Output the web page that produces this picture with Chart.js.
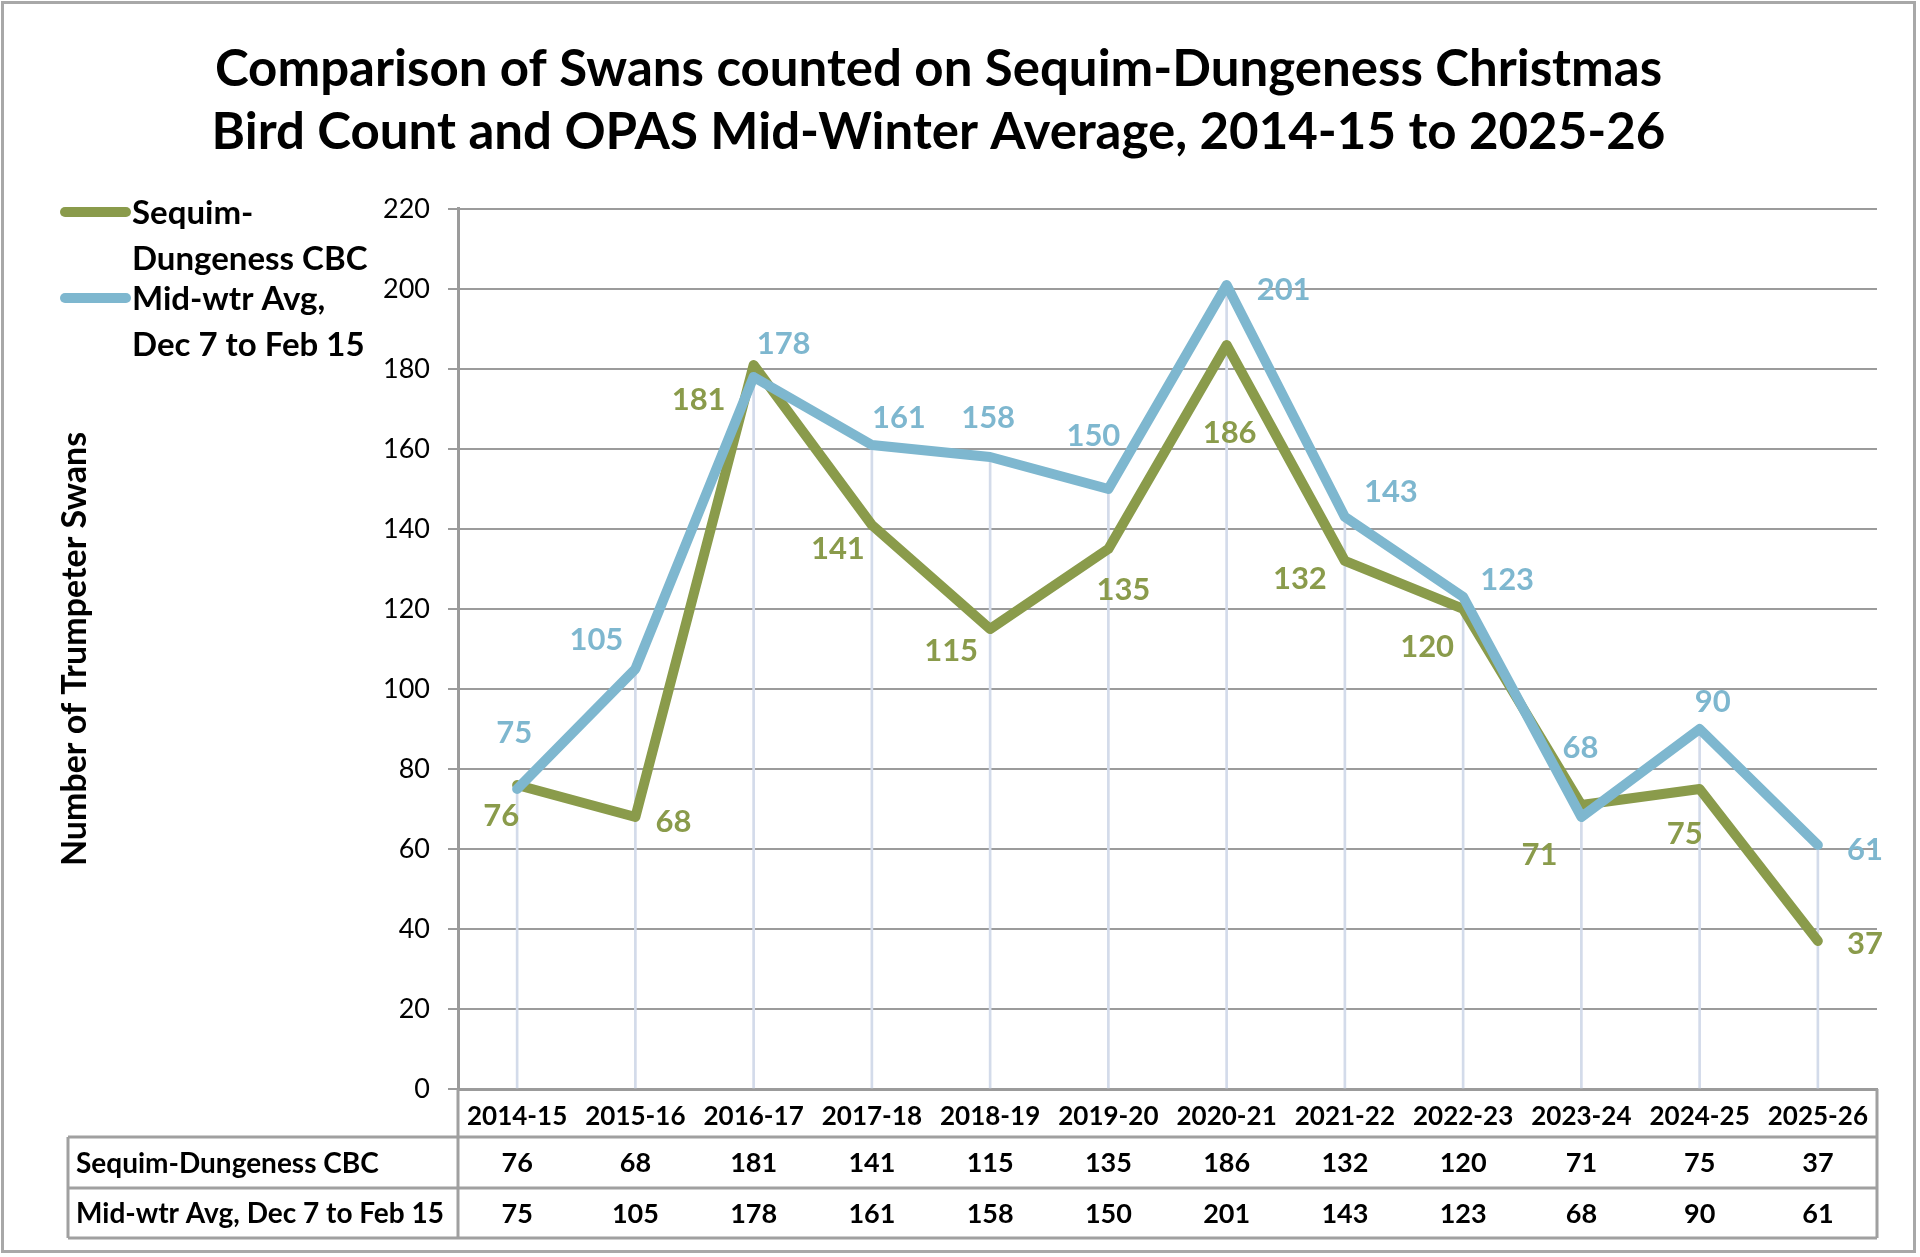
<!DOCTYPE html>
<html>
<head>
<meta charset="utf-8">
<script src="https://cdn.jsdelivr.net/npm/chart.js@4.4.1/dist/chart.umd.min.js"></script>
<style>
  html, body { margin: 0; padding: 0; background: #fff; }
  canvas { display: block; }
</style>
</head>
<body>
<canvas id="c" width="1920" height="1257"></canvas>
<script>
// ---- data ----
const categories = ['2014-15','2015-16','2016-17','2017-18','2018-19','2019-20','2020-21','2021-22','2022-23','2023-24','2024-25','2025-26'];
const cbcCounts = [76, 68, 181, 141, 115, 135, 186, 132, 120, 71, 75, 37];
const midWinterAvg = [75, 105, 178, 161, 158, 150, 201, 143, 123, 68, 90, 61];
const seriesNames = ['Sequim-Dungeness CBC', 'Mid-wtr Avg, Dec 7 to Feb 15'];
const legendLines = [['Sequim-', 'Dungeness CBC'], ['Mid-wtr Avg,', 'Dec 7 to Feb 15']];
const titleLines = ['Comparison of Swans counted on Sequim-Dungeness Christmas', 'Bird Count and OPAS Mid-Winter Average, 2014-15 to 2025-26'];
const yAxisTitle = 'Number of Trumpeter Swans';
const yMin = 0, yMax = 220, yStep = 20;

// ---- label placement (offsets from point, px) ----
const cbcLabelOffsets = [[-16,31],[38,5],[-55,35],[-34,24],[-39,22],[15,41],[3,88],[-45,18],[-36,38],[-42,50],[-15,45],[47,3]];
const avgLabelOffsets = [[-3,-56],[-39,-29],[30,-33],[27,-27],[-2,-39],[-15,-53],[57,5],[46,-25],[44,-17],[-1,-69],[13,-27],[47,5]];

// ---- styles ----
const GREEN = '#8a9b4b';
const BLUE = '#7eb7cf';
const GRID = '#9b9b9b';
const DROP = '#d3dbea';
const TABLE = '#a0a0a0';
const FONT = 'Lato';

Chart.defaults.font.family = FONT;
Chart.defaults.color = '#000';

const dropData = categories.map((_, i) => [0, Math.max(cbcCounts[i], midWinterAvg[i])]);

const decor = {
  id: 'decor',
  beforeDraw(chart) {
    const ctx = chart.ctx;
    ctx.save();
    ctx.fillStyle = '#fff';
    ctx.fillRect(0, 0, chart.width, chart.height);
    ctx.restore();
  },
  afterDatasetsDraw(chart) {
    const ctx = chart.ctx;
    ctx.save();
    ctx.font = 'bold 31px ' + FONT;
    ctx.textAlign = 'center';
    ctx.textBaseline = 'middle';
    const sets = [[0, cbcCounts, cbcLabelOffsets, GREEN], [1, midWinterAvg, avgLabelOffsets, BLUE]];
    sets.forEach(([di, vals, offs, col]) => {
      const meta = chart.getDatasetMeta(di);
      ctx.fillStyle = col;
      meta.data.forEach((pt, j) => {
        ctx.fillText(String(vals[j]), pt.x + offs[j][0], pt.y + offs[j][1]);
      });
    });
    ctx.restore();
  },
  afterDraw(chart) {
    const ctx = chart.ctx;
    const area = chart.chartArea;
    const xs = chart.scales.x;
    ctx.save();

    // outer border
    ctx.strokeStyle = '#a8a8a8';
    ctx.lineWidth = 3;
    ctx.strokeRect(2.5, 2.5, 1912, 1249);

    // legend
    const legY = [[212, 258], [298, 344]];
    const cols = [GREEN, BLUE];
    legendLines.forEach((lines, i) => {
      ctx.strokeStyle = cols[i];
      ctx.lineWidth = 10;
      ctx.lineCap = 'round';
      ctx.beginPath();
      ctx.moveTo(65, legY[i][0]);
      ctx.lineTo(126, legY[i][0]);
      ctx.stroke();
      ctx.fillStyle = '#000';
      ctx.font = 'bold 33px ' + FONT;
      ctx.textAlign = 'left';
      ctx.textBaseline = 'middle';
      lines.forEach((t, k) => ctx.fillText(t, 132, legY[i][k] + 1));
    });

    // y axis title
    ctx.save();
    ctx.translate(75, (area.top + area.bottom) / 2);
    ctx.rotate(-Math.PI / 2);
    ctx.font = 'bold 34px ' + FONT;
    ctx.textAlign = 'center';
    ctx.textBaseline = 'middle';
    ctx.fillStyle = '#000';
    ctx.fillText(yAxisTitle, 0, 0);
    ctx.restore();

    // data table
    const tLeft = 68, tRight = area.right;
    const hTop = area.bottom, r1Top = area.bottom + 48, r2Top = r1Top + 51, tBottom = r2Top + 50;
    ctx.strokeStyle = TABLE;
    ctx.lineWidth = 3;
    ctx.lineCap = 'butt';
    ctx.beginPath();
    [r1Top, r2Top, tBottom].forEach(y => { ctx.moveTo(tLeft, y); ctx.lineTo(tRight, y); });
    ctx.moveTo(tLeft, r1Top); ctx.lineTo(tLeft, tBottom);
    ctx.moveTo(area.left, hTop); ctx.lineTo(area.left, tBottom);
    ctx.moveTo(tRight, hTop); ctx.lineTo(tRight, tBottom);
    ctx.stroke();

    ctx.fillStyle = '#000';
    ctx.textBaseline = 'middle';
    ctx.textAlign = 'left';
    ctx.font = 'bold 28px ' + FONT;
    const rowMid = [(r1Top + r2Top) / 2, (r2Top + tBottom) / 2];
    seriesNames.forEach((n, i) => ctx.fillText(n, 76, rowMid[i] + 1));
    ctx.textAlign = 'center';
    ctx.font = 'bold 27px ' + FONT;
    [cbcCounts, midWinterAvg].forEach((vals, i) => {
      vals.forEach((v, j) => ctx.fillText(String(v), xs.getPixelForValue(j), rowMid[i] + 1));
    });
    ctx.restore();
  }
};

new Chart(document.getElementById('c'), {
  data: {
    labels: categories,
    datasets: [
      {
        type: 'line', label: seriesNames[0], data: cbcCounts,
        borderColor: GREEN, backgroundColor: GREEN, borderWidth: 10,
        pointRadius: 0, tension: 0, borderJoinStyle: 'round', borderCapStyle: 'round', order: 1
      },
      {
        type: 'line', label: seriesNames[1], data: midWinterAvg,
        borderColor: BLUE, backgroundColor: BLUE, borderWidth: 10,
        pointRadius: 0, tension: 0, borderJoinStyle: 'round', borderCapStyle: 'round', order: 0
      },
      {
        type: 'bar', label: 'drop', data: dropData,
        backgroundColor: DROP, barThickness: 2, order: 2
      }
    ]
  },
  options: {
    responsive: false,
    animation: false,
    devicePixelRatio: 1,
    layout: { padding: { left: 0, right: 43, top: 0, bottom: 0 } },
    plugins: {
      legend: { display: false },
      tooltip: { enabled: false },
      title: {
        display: true,
        text: titleLines,
        color: '#000',
        font: { family: FONT, size: 51, weight: 'bold', lineHeight: 1.235 },
        padding: { top: 38, bottom: 45 }
      }
    },
    scales: {
      x: {
        grid: { display: false, drawTicks: false },
        border: { display: true, color: GRID, width: 3 },
        ticks: { font: { size: 26, weight: 'bold' }, color: '#000', padding: 12, maxRotation: 0, autoSkip: false },
        afterFit(s) { s.height = 168; }
      },
      y: {
        min: yMin, max: yMax,
        ticks: { stepSize: yStep, font: { size: 27 }, color: '#000', padding: 18 },
        grid: { color: GRID, lineWidth: 2, tickLength: 10, drawTicks: true },
        border: { color: GRID, width: 3 },
        afterFit(s) { s.width = 458; }
      }
    }
  },
  plugins: [decor]
});
</script>
</body>
</html>
